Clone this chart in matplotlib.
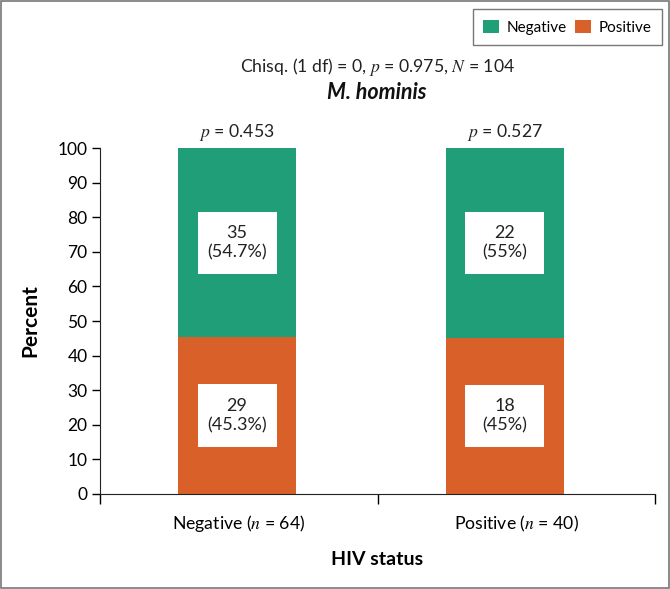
import matplotlib
matplotlib.use("Agg")
import matplotlib.pyplot as plt
from matplotlib.patches import Rectangle, Patch

plt.rcParams['font.family'] = ['Lato', 'DejaVu Sans']
plt.rcParams['mathtext.fontset'] = 'stix'

categories = ["Negative ($n$ = 64)", "Positive ($n$ = 40)"]
series_names = ["Negative", "Positive"]
counts_neg = [35, 22]
counts_pos = [29, 18]
pct_neg = [54.7, 55.0]
pct_pos = [45.3, 45.0]
pct_neg_lbl = ["54.7%", "55%"]
pct_pos_lbl = ["45.3%", "45%"]
group_p = ["0.453", "0.527"]
yticks = [0, 10, 20, 30, 40, 50, 60, 70, 80, 90, 100]

c_neg = "#1f9e77"
c_pos = "#d96028"

fig = plt.figure(figsize=(6.7, 5.89), dpi=100)
ax = fig.add_axes([0.1493, 0.1613, 0.8284, 0.5874])

label_x = [0.5, 1.5]
bar_x = [0.494, 1.458]
bw = 0.425
ax.bar(bar_x, pct_pos, width=bw, color=c_pos)
ax.bar(bar_x, pct_neg, width=bw, bottom=pct_pos, color=c_neg)

box_w, box_h = 0.285, 18.0
for i, x in enumerate(bar_x):
    yc_pos = pct_pos[i] / 2
    yc_neg = pct_pos[i] + pct_neg[i] / 2
    for yc, cnt, lbl in [(yc_pos, counts_pos[i], pct_pos_lbl[i]), (yc_neg, counts_neg[i], pct_neg_lbl[i])]:
        ax.add_patch(Rectangle((x - box_w / 2, yc - box_h / 2), box_w, box_h,
                               facecolor="white", edgecolor="none", zorder=3))
        ax.text(x, yc, f"{cnt}\n({lbl})", ha="center", va="center", fontsize=13,
                color="#222222", zorder=4, linespacing=1.25)
    ax.text(x, 101.5, f"$p$ = {group_p[i]}", ha="center", va="bottom", fontsize=12.7, color="#222222")

ax.set_xlim(0, 2)
ax.set_ylim(0, 100)
ax.set_yticks(yticks)
ax.set_xticks([0, 1, 2])
ax.set_xticklabels([])
ax.set_xticks(label_x, minor=True)
ax.set_xticklabels(categories, minor=True, fontsize=12.7)
ax.tick_params(axis="x", which="minor", length=0, pad=14)
ax.tick_params(axis="x", which="major", length=7, width=1, direction="out")
ax.tick_params(axis="y", length=6, width=1, labelsize=12.5, pad=3)
for s in ["top", "right"]:
    ax.spines[s].set_visible(False)
for s in ["left", "bottom"]:
    ax.spines[s].set_color("#222222")
ax.set_ylabel("Percent", fontsize=15, fontweight="bold", labelpad=12)
ax.set_xlabel("HIV status", fontsize=14, fontweight="bold", labelpad=12)

fig.text(0.563, 0.886, "Chisq. (1 df) = 0, $p$ = 0.975, $N$ = 104", ha="center", va="center",
         fontsize=12.7, color="#222222")
fig.text(0.563, 0.843, "M. hominis", ha="center", va="center", fontsize=15.5,
         fontweight="bold", style="italic", color="#111111")

handles = [Patch(facecolor=c_neg), Patch(facecolor=c_pos)]
leg = fig.legend(handles, series_names, loc="upper right", bbox_to_anchor=(0.988, 0.985),
                 borderaxespad=0, ncol=2, frameon=True, fancybox=False, fontsize=11,
                 handlelength=1.05, handleheight=1.0, handletextpad=0.5,
                 columnspacing=0.5, borderpad=0.7)
leg.get_frame().set_edgecolor("#555555")
leg.get_frame().set_linewidth(1)

fig.add_artist(Rectangle((0.002, 0.002), 0.996, 0.996, transform=fig.transFigure,
                         fill=False, edgecolor="#777777", linewidth=1.2))

fig.savefig("out.png", dpi=100)
